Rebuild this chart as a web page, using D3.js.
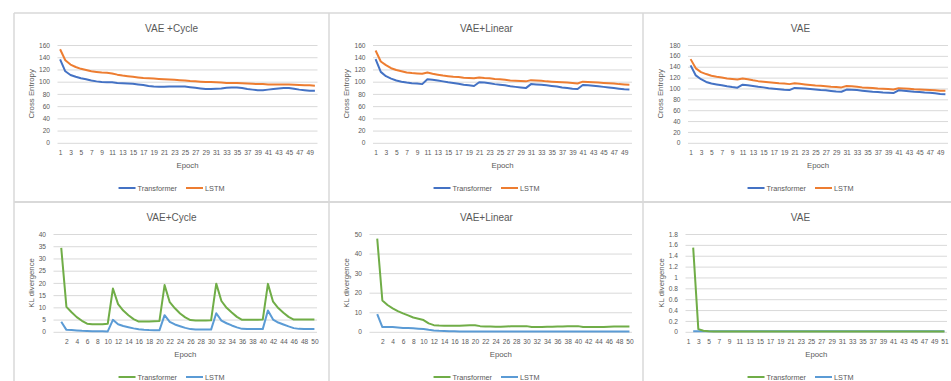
<!DOCTYPE html>
<html>
<head>
<meta charset="utf-8">
<script src="https://cdn.jsdelivr.net/npm/d3@7"></script>
<style>
  body { margin: 0; background: #fff; }
  text { font-family: "Liberation Sans", Arial, sans-serif; fill: #595959; }
</style>
</head>
<body>
<svg id="chart" width="951" height="381"></svg>
<script>
// epochs / categories
const epochs = d3.range(1, 51);
const klCats = [""].concat(d3.range(1, 51));
const vaeKlCats = d3.range(1, 52);
const vaeKlEpochs = d3.range(2, 52);

// y tick values
const ceTicks160 = [0, 20, 40, 60, 80, 100, 120, 140, 160];
const ceTicks180 = [0, 20, 40, 60, 80, 100, 120, 140, 160, 180];
const klTicksCycle = [0, 5, 10, 15, 20, 25, 30, 35, 40];
const klTicksLinear = [0, 10, 20, 30, 40, 50];
const klTicksVae = [0, 0.2, 0.4, 0.6, 0.8, 1, 1.2, 1.4, 1.6, 1.8];

// cross entropy
const cycleCeTransformer = [136.5,117,111,108,105.5,104,102,100.5,99.5,99,99,98,97.5,97,96.5,95.5,94.5,93,92,91.5,91.5,92,92,92,92,91,90,89,88,88,88.5,89,90,90.5,90.5,89.5,88,87,86,86,87,88,89,89.5,89.5,88.5,87,86,85,85];
const cycleCeLstm = [153,135,128,124,121,119,117,116,115,114.5,113.5,111.5,110,109,108,107,106,105.5,105,104.5,104,103.5,103,102.5,102,101,100.5,100,99.5,99.5,99,98.5,98,98,98,97.5,97,96.5,96,96,95.5,95.5,95.5,95.5,95.5,95,94.5,94,94,93.5];
const linearCeTransformer = [137,116,109,105,102,100,98.5,97.5,97,96,104,103,102,100.5,99,98,96.5,95,94,93,99,98.5,97.5,96,95,94,92.5,91.5,90.5,89.5,96,95.5,95,94,93,92,90.5,89.5,88.5,88,94.5,94,93.5,92.5,91.5,90.5,89.5,88.5,87.5,87];
const linearCeLstm = [151,133,127,122,119,117,115,114,113.5,113,115,113,111.5,110,109,108,107.5,106.5,106,105.5,107,106,105.5,104.5,104,103,102,101.5,101,100.5,102.5,102,101.5,100.5,100,99.5,99,98.5,98,97,100,99.5,99,98.5,98,97.5,97,96,95.5,95];
const vaeCeTransformer = [142.5,124,117,112,109,107.5,106,104,102.5,101.5,107,106,104.5,103,102,100.5,99.5,98.5,97.5,97,101,100.5,100,99,98,97,96.5,95.5,94.5,94,98,97.5,97,96,95,94,93.5,92.5,92,91.5,96.5,96,95,94,93.5,92.5,92,91,90,89.5];
const vaeCeLstm = [154,137,130,126.5,123.5,121.5,120,118.5,117.5,116.5,118.5,117,115,113.5,112.5,111.5,110.5,109.5,109,108,109.5,108.5,107.5,106.5,105.5,105,104,103,102.5,102,104.5,104,103,102,101.5,101,100,99.5,99,98,100.5,100,99.5,98.5,98,97.5,97,96.5,96,96];

// KL divergence
const cycleKlTransformer = [34.3,10.2,8,6,4.5,3.3,3.1,3.1,3.1,3.3,17.7,11.3,8.7,6.8,5.2,4.2,4.2,4.2,4.3,4.4,19.1,12.1,9.6,7.5,5.9,4.8,4.6,4.6,4.6,4.7,19.7,12.6,9.8,7.9,6.1,4.9,4.9,4.9,4.9,5,19.6,12.3,9.7,7.8,6.1,5,5,5,5,5];
const cycleKlLstm = [4.1,0.8,0.7,0.55,0.4,0.3,0.2,0.2,0.2,0.15,4.9,3.1,2.4,1.9,1.4,1,0.8,0.7,0.65,0.6,6.8,4.1,3,2.3,1.6,1.1,0.9,0.9,0.9,0.9,7.6,4.6,3.5,2.6,1.8,1.2,1.1,1.1,1.1,1.1,8.7,5,3.8,3,2.2,1.5,1.2,1.1,1.1,1.1];
const linearKlTransformer = [47.6,16,13.7,12,10.6,9.4,8.4,7.3,6.7,6,4.3,3.4,3.2,3.1,3.1,3.1,3.1,3.2,3.3,3.3,2.9,2.7,2.7,2.6,2.6,2.7,2.8,2.8,2.9,2.9,2.5,2.5,2.5,2.6,2.6,2.7,2.7,2.8,2.8,2.9,2.4,2.4,2.4,2.5,2.5,2.6,2.7,2.7,2.7,2.7];
const linearKlLstm = [9,2.4,2.4,2.4,2.2,2,1.9,1.8,1.6,1.4,1,0.7,0.5,0.4,0.3,0.25,0.2,0.2,0.2,0.2,0.2,0.2,0.2,0.2,0.2,0.2,0.2,0.2,0.2,0.2,0.15,0.15,0.15,0.15,0.15,0.15,0.15,0.15,0.15,0.15,0.1,0.1,0.1,0.1,0.1,0.1,0.1,0.1,0.1,0.1];
const vaeKlTransformer = [1.55,0.05,0.02,0.01,0.006,0.006,0.006,0.006,0.006,0.006,0.006,0.006,0.006,0.006,0.006,0.006,0.006,0.006,0.006,0.006,0.006,0.006,0.006,0.006,0.006,0.006,0.006,0.006,0.006,0.006,0.006,0.006,0.006,0.006,0.006,0.006,0.006,0.006,0.006,0.006,0.006,0.006,0.006,0.006,0.006,0.006,0.006,0.006,0.006,0.006];
const vaeKlLstm = [0.01,0.01,0.01,0.01,0.01,0.01,0.01,0.01,0.01,0.01,0.01,0.01,0.01,0.01,0.01,0.01,0.012,0.012,0.012,0.012,0.012,0.012,0.012,0.012,0.012,0.012,0.012,0.012,0.012,0.012,0.012,0.012,0.012,0.012,0.012,0.012,0.012,0.012,0.012,0.012,0.012,0.012,0.012,0.012,0.01,0.01,0.01,0.01,0.01,0.01];

const blue = "#4472C4", orange = "#ED7D31", green = "#70AD47", lightBlue = "#5B9BD5";

let svg = d3.select("#chart");

const panelLeft = [14, 329, 643],
    panelTop = [13, 202],
    panelW = 315;

// panel setup
let panels = [
    {col: 0, row: 0, title: "VAE +Cycle", yTitle: "Cross Entropy", cats: epochs, dataCats: epochs, ticks: ceTicks160,
        plot: [57.5, 317.5], yTitleX: 31,
        series: [{name: "Transformer", color: blue, values: cycleCeTransformer}, {name: "LSTM", color: orange, values: cycleCeLstm}]},
    {col: 1, row: 0, title: "VAE+Linear", yTitle: "Cross Entropy", cats: epochs, dataCats: epochs, ticks: ceTicks160,
        plot: [373, 632], yTitleX: 346,
        series: [{name: "Transformer", color: blue, values: linearCeTransformer}, {name: "LSTM", color: orange, values: linearCeLstm}]},
    {col: 2, row: 0, title: "VAE", yTitle: "Cross Entropy", cats: epochs, dataCats: epochs, ticks: ceTicks180,
        plot: [688, 948], yTitleX: 660,
        series: [{name: "Transformer", color: blue, values: vaeCeTransformer}, {name: "LSTM", color: orange, values: vaeCeLstm}]},
    {col: 0, row: 1, title: "VAE+Cycle", yTitle: "KL divergence", cats: klCats, dataCats: epochs, ticks: klTicksCycle,
        plot: [53.5, 317], yTitleX: 31,
        series: [{name: "Transformer", color: green, values: cycleKlTransformer}, {name: "LSTM", color: lightBlue, values: cycleKlLstm}]},
    {col: 1, row: 1, title: "VAE+Linear", yTitle: "KL divergence", cats: klCats, dataCats: epochs, ticks: klTicksLinear,
        plot: [369.5, 632], yTitleX: 346,
        series: [{name: "Transformer", color: green, values: linearKlTransformer}, {name: "LSTM", color: lightBlue, values: linearKlLstm}]},
    {col: 2, row: 1, title: "VAE", yTitle: "KL divergence", cats: vaeKlCats, dataCats: vaeKlEpochs, ticks: klTicksVae,
        plot: [685.5, 947], yTitleX: 661,
        series: [{name: "Transformer", color: green, values: vaeKlTransformer}, {name: "LSTM", color: lightBlue, values: vaeKlLstm}]}
];

// frame lines
const frame = "#d9d9d9";
svg.append("line").attr("x1", 14).attr("x2", 951).attr("y1", 13).attr("y2", 13).attr("stroke", frame).attr("stroke-width", 1.5);
svg.append("line").attr("x1", 14).attr("x2", 951).attr("y1", 202).attr("y2", 202).attr("stroke", frame).attr("stroke-width", 2);
[14, 329, 643].forEach(function (x) {
    svg.append("line").attr("x1", x).attr("x2", x).attr("y1", 13).attr("y2", 381).attr("stroke", frame).attr("stroke-width", 1.5);
});

panels.forEach(function (p) {
    let left = panelLeft[p.col],
        top = panelTop[p.row],
        cx = left + panelW / 2,
        yTop = top + 32,
        yBot = top + 129.8;

    let x = d3.scalePoint()
        .domain(p.cats.map(String))
        .range(p.plot)
        .padding(0.5);

    let y = d3.scaleLinear()
        .domain([0, d3.max(p.ticks)])
        .range([yBot, yTop]);

    let g = svg.append("g");

    // y axis + gridlines
    let yAxis = g.append("g")
        .attr("transform", "translate(" + p.plot[0] + ",0)")
        .call(d3.axisLeft(y)
            .tickValues(p.ticks)
            .tickFormat(d3.format("~g"))
            .tickSize(-(p.plot[1] - p.plot[0]))
            .tickPadding(7.5));
    yAxis.select(".domain").remove();
    yAxis.selectAll(".tick line").attr("stroke", frame).attr("stroke-width", 1);
    yAxis.selectAll(".tick text").attr("font-size", 6.6).attr("fill", "#595959")
        .style("font-family", "'Liberation Sans', Arial, sans-serif");

    // x axis labels
    let xAxis = g.append("g")
        .attr("transform", "translate(0," + yBot + ")")
        .call(d3.axisBottom(x)
            .tickValues(p.cats.map(String).filter(function (d, i) { return i % 2 === 0; }))
            .tickSize(0)
            .tickPadding(8));
    xAxis.select(".domain").remove();
    xAxis.selectAll(".tick text").attr("font-size", 6.6).attr("fill", "#595959")
        .style("font-family", "'Liberation Sans', Arial, sans-serif");

    // lines
    let line = d3.line()
        .defined(function (d) { return d.v != null; })
        .x(function (d) { return x(String(d.c)); })
        .y(function (d) { return y(d.v); });

    p.series.slice().reverse().forEach(function (s) {
        let pts = s.values.map(function (v, i) { return {c: p.dataCats[i], v: v}; });
        g.append("path")
            .datum(pts)
            .attr("fill", "none")
            .attr("stroke", s.color)
            .attr("stroke-width", 2)
            .attr("stroke-linejoin", "round")
            .attr("d", line);
    });

    // title
    g.append("text")
        .attr("x", cx).attr("y", top + 15).attr("dy", "0.35em")
        .attr("text-anchor", "middle").attr("font-size", 10)
        .text(p.title);

    // axis titles
    g.append("text")
        .attr("x", (p.plot[0] + p.plot[1]) / 2).attr("y", top + 152.7).attr("dy", "0.35em")
        .attr("text-anchor", "middle").attr("font-size", 7.8)
        .text("Epoch");
    g.append("text")
        .attr("transform", "translate(" + p.yTitleX + "," + ((yTop + yBot) / 2) + ")rotate(-90)")
        .attr("dy", "0.35em")
        .attr("text-anchor", "middle").attr("font-size", 7.8)
        .text(p.yTitle);

    // legend
    let lg = g.append("g");
    let xoff = 0;
    p.series.forEach(function (s, i) {
        if (i > 0) xoff += 9;
        lg.append("line")
            .attr("x1", xoff).attr("x2", xoff + 17).attr("y1", 0).attr("y2", 0)
            .attr("stroke", s.color).attr("stroke-width", 2);
        xoff += 19;
        let t = lg.append("text")
            .attr("x", xoff).attr("dy", "0.35em").attr("font-size", 7.3)
            .text(s.name);
        xoff += t.node().getComputedTextLength();
    });
    lg.attr("transform", "translate(" + (cx - xoff / 2) + "," + (top + 175) + ")");
});
</script>
</body>
</html>
